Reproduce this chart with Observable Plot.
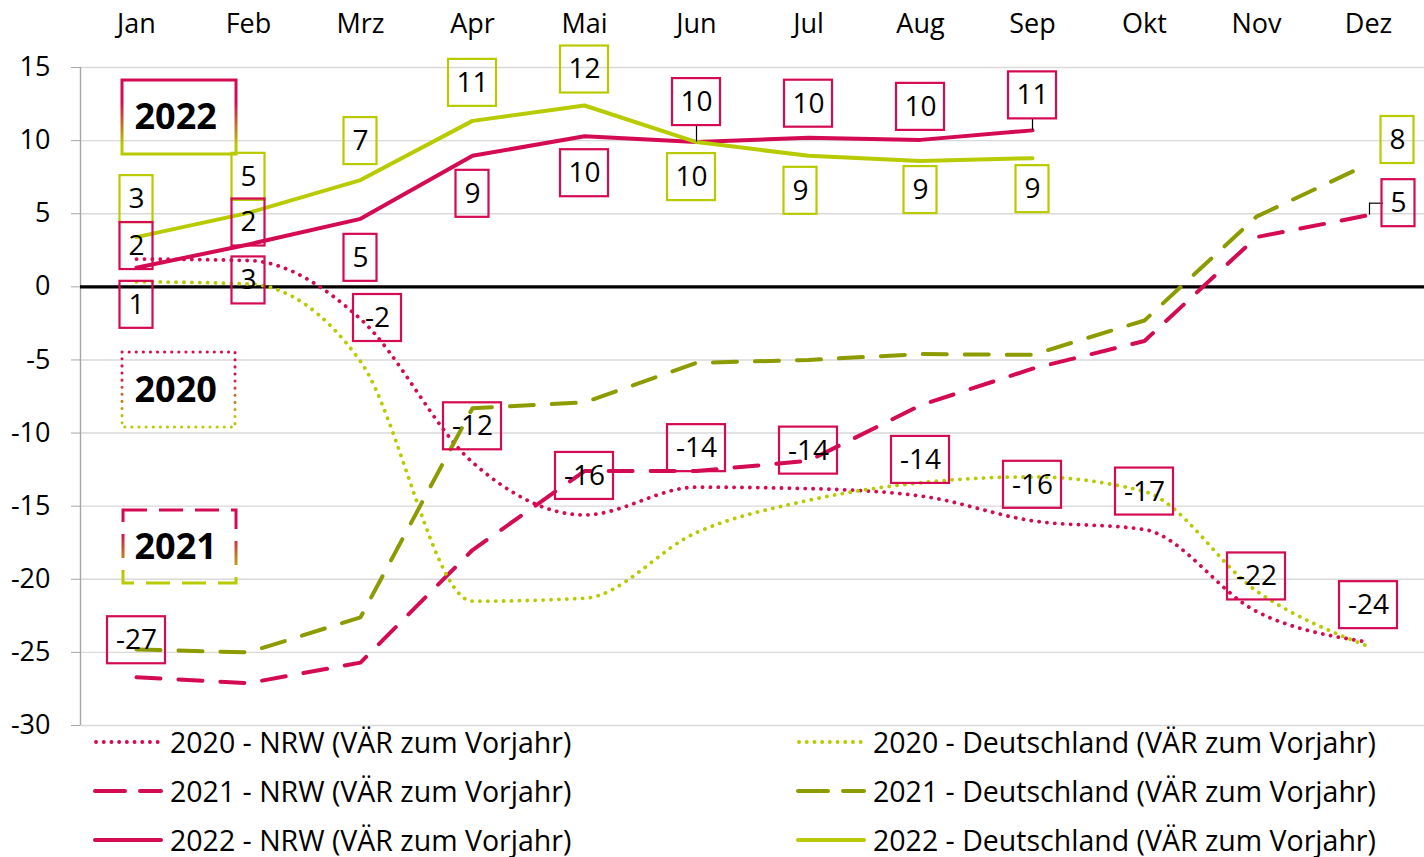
<!DOCTYPE html>
<html><head><meta charset="utf-8">
<script src="https://cdn.jsdelivr.net/npm/d3@7"></script>
<script src="https://cdn.jsdelivr.net/npm/@observablehq/plot@0.6"></script>
<style>
body{margin:0;background:#fff;font-family:"Open Sans",sans-serif;}
#wrap{position:relative;width:1424px;height:857px;}
#legend{position:absolute;left:0;top:717px;width:1424px;}
.row{height:49px;position:relative;}
.item{position:absolute;top:0;height:49px;display:flex;align-items:center;}
.item svg{margin-right:7px;display:block}
.item span{font-size:28.5px;color:#000;white-space:nowrap;line-height:30px}
</style></head><body><div id="wrap"></div>
<script>
// ---- data ----
const months = ["Jan","Feb","Mrz","Apr","Mai","Jun","Jul","Aug","Sep","Okt","Nov","Dez"];
const nrw2020 = [1.9, 1.8, -2.2, -12.0, -15.6, -13.7, -13.8, -14.3, -16.0, -16.6, -22.2, -24.3];
const de2020  = [0.35, 0.2, -5.1, -21.5, -21.3, -16.8, -14.6, -13.4, -13.0, -14.0, -20.8, -24.6];
const nrw2021 = [-26.7, -27.1, -25.7, -18.0, -12.6, -12.6, -11.9, -8.1, -5.6, -3.7, 3.4, 4.9];
const de2021  = [-24.8, -25.0, -22.6, -8.3, -7.9, -5.2, -5.0, -4.6, -4.65, -2.3, 4.8, 8.4];
const nrw2022 = [1.3, 2.9, 4.65, 8.96, 10.3, 9.9, 10.2, 10.05, 10.7];
const de2022  = [3.4, 5.06, 7.3, 11.35, 12.4, 9.9, 8.96, 8.6, 8.8];
const yTicks = [15, 10, 5, 0, -5, -10, -15, -20, -25, -30];
const years = ["2022", "2020", "2021"];

// ---- styles ----
const C_NRW = "#D40A52";
const C_DE = "#B8CB00";
const C_DE21 = "#8C9C00";
const BOX_MARK = "#010203"; // placeholder stroke, replaced by gradient
const DOT = "0.1 7.8", DASH = "24 18";

const series = [
  {key:"nrw2020", name:"2020 - NRW (VÄR zum Vorjahr)", values:nrw2020, color:C_NRW, label:C_NRW, dash:DOT, width:3.8, curve:"monotone-x"},
  {key:"nrw2021", name:"2021 - NRW (VÄR zum Vorjahr)", values:nrw2021, color:C_NRW, label:C_NRW, dash:DASH, width:4, curve:"linear"},
  {key:"nrw2022", name:"2022 - NRW (VÄR zum Vorjahr)", values:nrw2022, color:C_NRW, label:C_NRW, dash:null, width:4, curve:"linear"},
  {key:"de2020", name:"2020 - Deutschland (VÄR zum Vorjahr)", values:de2020, color:C_DE, label:C_DE, dash:DOT, width:3.8, curve:"monotone-x"},
  {key:"de2021", name:"2021 - Deutschland (VÄR zum Vorjahr)", values:de2021, color:C_DE21, label:C_DE, dash:DASH, width:4, curve:"linear"},
  {key:"de2022", name:"2022 - Deutschland (VÄR zum Vorjahr)", values:de2022, color:C_DE, label:C_DE, dash:null, width:4, curve:"linear"}
];
const byKey = Object.fromEntries(series.map(s => [s.key, s]));

// label placement: [series, month index, dx px, dy px]
const labelPlacement = [
  ["nrw2022",0,0,37],["nrw2022",1,0,36],["nrw2022",2,0,39],["nrw2022",3,0,38],["nrw2022",4,0,37],
  ["nrw2022",5,0,-40],["nrw2022",6,0,-34],["nrw2022",7,0,-33],["nrw2022",8,0,-35],
  ["de2022",0,0,-38],["de2022",1,0,-36],["de2022",2,0,-39],["de2022",3,0,-38],["de2022",4,0,-36],
  ["de2022",5,-5,35],["de2022",6,-8,35],["de2022",7,0,29],["de2022",8,0,31],
  ["nrw2020",0,0,-13],["nrw2020",1,0,-38],["nrw2020",2,17,-1],["nrw2020",3,0,-36],["nrw2020",4,0,-39],
  ["nrw2020",5,0,-39],["nrw2020",6,0,-38],["nrw2020",7,0,-36],["nrw2020",8,0,-36],["nrw2020",9,0,-38],
  ["nrw2020",10,0,-35],["nrw2020",11,0,-37],
  ["nrw2021",0,0,-37],["nrw2021",11,30,-12],
  ["de2021",11,29,-24]
];

const marks = [
  Plot.gridY(yTicks, {stroke:"#d9d9d9", strokeOpacity:1, strokeWidth:1.4}),
  Plot.ruleX([-0.5], {stroke:"#a6a6a6", strokeWidth:1.4}),
  Plot.axisY(yTicks, {anchor:"left", tickSize:9, tickPadding:21, fontSize:27, stroke:"#a6a6a6", tickFormat: d => String(d), fill:"#000"}),
  Plot.axisX(d3.range(12), {anchor:"top", tickSize:0, tickPadding:35, fontSize:27, tickFormat: i => months[i], fill:"#000"}),
  Plot.ruleY([0], {stroke:"#000", strokeWidth:3.2})
];

for (const s of series) {
  marks.push(Plot.line(s.values.map((v, i) => ({i, v})), {
    x:"i", y:"v", stroke:s.color, strokeWidth:s.width,
    strokeDasharray:s.dash || undefined, strokeLinecap:"round",
    strokeLinejoin:"round", curve:s.curve
  }));
}

// year legend boxes inside the chart
const yearBoxes = [
  {year:"2022", x1:-0.125, x2:0.893, y1:14.11, y2:9.05, tx:0.35, ty:11.55, dash:null},
  {year:"2020", x1:-0.125, x2:0.884, y1:-4.49, y2:-9.62, tx:0.35, ty:-7.1, dash:"0.1 7"},
  {year:"2021", x1:-0.116, x2:0.893, y1:-15.3, y2:-20.29, tx:0.35, ty:-17.85, dash:"24 12"}
];
for (const b of yearBoxes) {
  marks.push(Plot.rect([b], {x1:"x1", x2:"x2", y1:"y1", y2:"y2", fill:"none", stroke:BOX_MARK,
    strokeWidth:3, strokeDasharray:b.dash || undefined, strokeLinecap: b.dash && b.dash.startsWith("0.1") ? "round" : "butt"}));
  marks.push(Plot.text([b], {x:"tx", y:"ty", text:"year", fontSize:36, fontWeight:"bold", fill:"#000"}));
}

// leader lines
marks.push(Plot.ruleX([{i:5, v:nrw2022[5]}], {x:"i", y1:"v", y2:"v", insetTop:-16.5, insetBottom:0, stroke:"#000", strokeWidth:1.2}));
marks.push(Plot.ruleX([{i:8, v:nrw2022[8]}], {x:"i", y1:"v", y2:"v", insetTop:-11.5, insetBottom:0, stroke:"#000", strokeWidth:1.2}));
marks.push(Plot.ruleX([{i:11, v:nrw2021[11]}], {x:"i", y1:"v", y2:"v", insetTop:-12, insetBottom:0, dx:1, stroke:"#000", strokeWidth:1.2}));
marks.push(Plot.ruleY([{i:11, v:nrw2021[11]}], {y:"v", x1:"i", x2:"i", insetLeft:0, insetRight:-14, dx:1, dy:-12, stroke:"#000", strokeWidth:1.2}));

// data labels
for (const [k, i, dx, dy] of labelPlacement) {
  const s = byKey[k];
  const v = s.values[i];
  const t = String(Math.round(v));
  const w = t.length === 1 ? 33 : t.length === 2 ? 48 : 58;
  const d = {i, v, t};
  marks.push(Plot.rect([d], {x1:"i", x2:"i", y1:"v", y2:"v", dx, dy,
    insetLeft:-w/2, insetRight:-w/2, insetTop:-23.5, insetBottom:-23.5,
    fill:"none", stroke:s.label, strokeWidth:2.2}));
  marks.push(Plot.text([d], {x:"i", y:"v", text:"t", dx, dy, fontSize:28, fill:"#000"}));
}

const svg = Plot.plot({
  width:1424, height:730,
  marginLeft:80, marginRight:0, marginTop:67, marginBottom:5,
  x:{type:"linear", domain:[-0.5, 11.5]},
  y:{type:"linear", domain:[-30, 15]},
  style:{fontFamily:"Open Sans", fontSize:"27px", color:"#000", background:"#fff", overflow:"visible"},
  marks
});

// gradient stroke for year boxes
const defs = d3.select(svg).insert("defs", ":first-child");
const grad = defs.append("linearGradient").attr("id","yearGrad")
  .attr("x1",0).attr("y1",0).attr("x2",0).attr("y2",1);
grad.append("stop").attr("offset","0.3").attr("stop-color",C_NRW);
grad.append("stop").attr("offset","0.88").attr("stop-color",C_DE);
d3.select(svg).selectAll("[stroke]").filter(function() {
  return (this.getAttribute("stroke") || "").toLowerCase() === BOX_MARK;
}).attr("stroke","url(#yearGrad)");

const wrap = document.getElementById("wrap");
wrap.appendChild(svg);

// legend
const legend = document.createElement("div");
legend.id = "legend";
const rows = [[0,3],[1,4],[2,5]];
for (const [a, b] of rows) {
  const row = document.createElement("div");
  row.className = "row";
  [[a, 93], [b, 796]].forEach(([si, left]) => {
    const s = series[si];
    const item = document.createElement("div");
    item.className = "item";
    item.style.left = left + "px";
    const dash = s.dash ? `stroke-dasharray="${s.dash === DOT ? "0.1 7.6" : "30 15"}"` : "";
    const x1 = s.dash === DOT ? 3 : 2;
    item.innerHTML = `<svg width="70" height="12"><line x1="${x1}" x2="68" y1="6" y2="6" stroke="${s.color}" stroke-width="${s.width}" stroke-linecap="round" ${dash}/></svg><span>${s.name}</span>`;
    row.appendChild(item);
  });
  legend.appendChild(row);
}
wrap.appendChild(legend);
</script></body></html>
